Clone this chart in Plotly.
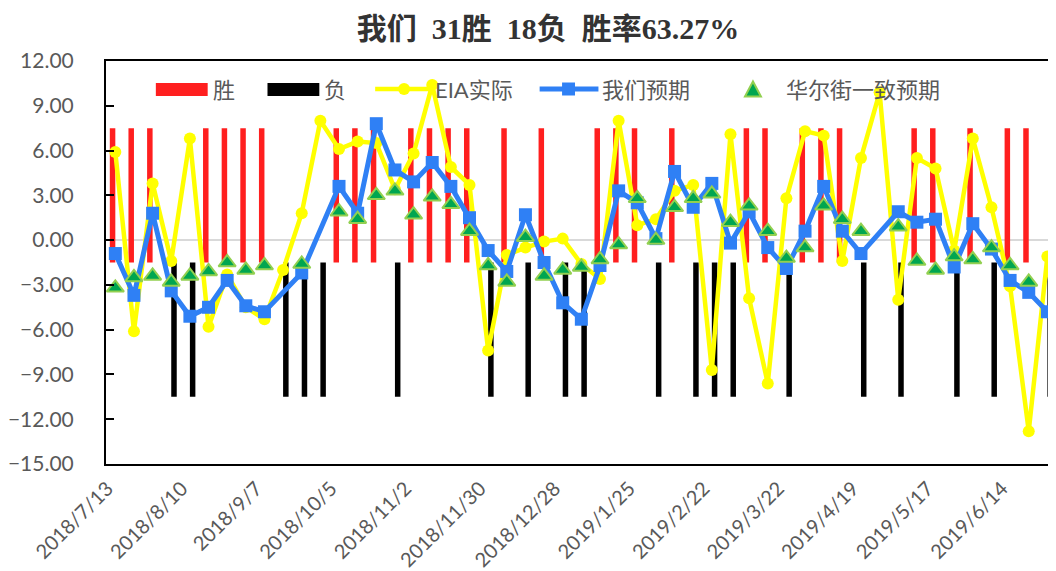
import plotly.graph_objects as go
import pandas as pd

# ---------------- data ----------------
start_date = "2018-07-13"
n_weeks = 52
dates = pd.date_range(start_date, periods=n_weeks, freq="7D")
categories = [f"{d.year}/{d.month}/{d.day}" for d in dates]

tick_labels = ["2018/7/13", "2018/8/10", "2018/9/7", "2018/10/5", "2018/11/2",
               "2018/11/30", "2018/12/28", "2019/1/25", "2019/2/22", "2019/3/22",
               "2019/4/19", "2019/5/17", "2019/6/14"]

eia_actual = [5.9, -6.1, 3.8, -1.4, 6.8, -5.8, -2.3, -4.5, -5.3, -2.0,
              1.8, 8.0, 6.1, 6.6, 6.5, 3.4, 5.8, 10.4, 4.9, 3.7,
              -7.4, -1.0, -0.5, -0.1, 0.1, -1.6, -2.6, 8.0, 1.0, 1.4,
              3.3, 3.7, -8.7, 7.1, -3.9, -9.6, 2.8, 7.3, 7.0, -1.4,
              5.5, 9.9, -4.0, 5.5, 4.8, -0.7, 6.8, 2.2, -3.1, -12.8,
              -1.1, -11.5]

our_forecast = [-0.9, -3.7, 1.8, -3.4, -5.1, -4.5, -2.7, -4.4, -4.8, None,
                -2.2, None, 3.6, 1.8, 7.8, 4.7, 3.9, 5.2, 3.6, 1.5,
                -0.7, -2.1, 1.7, -1.5, -4.2, -5.3, -1.7, 3.3, 2.5, 0.1,
                4.6, 2.2, 3.8, -0.2, 1.9, -0.5, -1.9, 0.6, 3.6, 0.6,
                -0.9, None, 1.9, 1.2, 1.4, -1.8, 1.1, -0.6, -2.7, -3.5,
                -4.8, -5.0]

street_consensus = [-3.2, -2.5, -2.4, -2.8, -2.4, -2.1, -1.5, -2.0, -1.7, None,
                    -1.6, None, 1.9, 1.4, 3.0, 3.3, 1.7, 2.9, 2.4, 0.6,
                    -1.7, -2.8, 0.2, -2.4, -2.0, -1.8, -1.3, -0.3, 2.8, 0.0,
                    2.2, 2.8, 3.1, 1.2, 2.3, 0.6, -1.2, -0.5, 2.3, 1.4,
                    0.6, None, 0.9, -1.4, -2.0, -1.1, -1.3, -0.5, -1.7, -2.8,
                    None, None]

# W = 胜, L = 负, None = no call
results = ["W", "W", "W", "L", "L", "W", "W", "W", "W", "L",
           "L", "L", "W", "W", "W", "L", "W", "W", "W", "W",
           "L", "W", "L", "W", "L", "L", "W", "W", "W", "L",
           "W", "L", "L", "L", "W", "W", "L", "W", "W", "W",
           "L", None, "L", "W", "W", "L", "W", "L", "W", "W",
           "L", None]

# indicator bar extents (in axis units)
WIN_BASE, WIN_TOP = -1.5, 7.5
LOSS_BASE, LOSS_TOP = -10.5, -1.5

win_h = [WIN_TOP - WIN_BASE if r == "W" else None for r in results]
loss_h = [LOSS_TOP - LOSS_BASE if r == "L" else None for r in results]

# ---------------- styling ----------------
OFF = 8                      # page body margin of the html page
PAGE_W, PAGE_H = 1056, 571
W, H = PAGE_W - OFF, PAGE_H - OFF
ML, MR, MT, MB = 103 - OFF, 0, 61 - OFF, 107
PW, PH = W - ML - MR, H - MT - MB
CAT_PX = 18.7

RED = "#FF1F1F"
BLACK = "#000000"
YELLOW = "#FFFF00"
BLUE = "#2F80F5"
GREEN_FILL = "#00A650"
GREEN_LINE = "#92D050"
GRAY_TXT = "#595959"
LATIN = "Lato, 'Noto Sans CJK SC', sans-serif"


def fx(x):
    """page pixel x -> paper fraction"""
    return (x - OFF - ML) / PW


def fy(y):
    """page pixel y -> paper fraction"""
    return (MT + PH - (y - OFF)) / PH


fig = go.Figure()

fig.add_trace(go.Bar(x=categories, y=win_h, base=WIN_BASE, marker_color=RED,
                     marker_line_width=0, name="胜", showlegend=False))
fig.add_trace(go.Bar(x=categories, y=loss_h, base=LOSS_BASE, marker_color=BLACK,
                     marker_line_width=0, name="负", showlegend=False))

fig.add_trace(go.Scatter(x=categories, y=eia_actual, mode="lines+markers",
                         line=dict(color=YELLOW, width=4.5),
                         marker=dict(color=YELLOW, size=12, symbol="circle"),
                         name="EIA实际", showlegend=False, connectgaps=True))
fig.add_trace(go.Scatter(x=categories, y=our_forecast, mode="lines+markers",
                         line=dict(color=BLUE, width=5),
                         marker=dict(color=BLUE, size=13, symbol="square"),
                         name="我们预期", showlegend=False, connectgaps=True))
fig.add_trace(go.Scatter(x=categories, y=street_consensus, mode="markers",
                         marker=dict(color=GREEN_FILL, size=15, symbol="triangle-up",
                                     line=dict(color=GREEN_LINE, width=2)),
                         name="华尔街一致预期", showlegend=False))

# ---------------- custom legend ----------------
LEG_Y = 89
shapes = []
annotations = []


def leg_text(x, txt):
    annotations.append(dict(x=fx(x), y=fy(LEG_Y), xref="paper", yref="paper",
                            text=txt, showarrow=False, xanchor="left", yanchor="middle",
                            font=dict(size=22, color=GRAY_TXT, family=LATIN)))


shapes.append(dict(type="rect", xref="paper", yref="paper", x0=fx(153), x1=fx(205),
                   y0=fy(LEG_Y + 7), y1=fy(LEG_Y - 6), fillcolor=RED, line_width=0))
leg_text(208, "胜")
shapes.append(dict(type="rect", xref="paper", yref="paper", x0=fx(265), x1=fx(317),
                   y0=fy(LEG_Y + 7), y1=fy(LEG_Y - 6), fillcolor=BLACK, line_width=0))
leg_text(320, "负")
shapes.append(dict(type="line", xref="paper", yref="paper", x0=fx(373), x1=fx(430),
                   y0=fy(LEG_Y), y1=fy(LEG_Y), line=dict(color=YELLOW, width=4.5)))
shapes.append(dict(type="circle", xref="paper", yref="paper", x0=fx(396), x1=fx(408),
                   y0=fy(LEG_Y + 6), y1=fy(LEG_Y - 6), fillcolor=YELLOW, line_width=0))
leg_text(431, "EIA实际")
shapes.append(dict(type="line", xref="paper", yref="paper", x0=fx(538), x1=fx(597),
                   y0=fy(LEG_Y), y1=fy(LEG_Y), line=dict(color=BLUE, width=5)))
shapes.append(dict(type="rect", xref="paper", yref="paper", x0=fx(560.5), x1=fx(573.5),
                   y0=fy(LEG_Y + 6.5), y1=fy(LEG_Y - 6.5), fillcolor=BLUE, line_width=0))
leg_text(599, "我们预期")
tri = (f"M {fx(752)} {fy(LEG_Y - 7.5)} L {fx(744)} {fy(LEG_Y + 7.5)} "
       f"L {fx(760)} {fy(LEG_Y + 7.5)} Z")
shapes.append(dict(type="path", xref="paper", yref="paper", path=tri,
                   fillcolor=GREEN_FILL, line=dict(color=GREEN_LINE, width=2)))
leg_text(783, "华尔街一致预期")

# ---------------- layout ----------------
fig.update_layout(
    width=W, height=H,
    margin=dict(l=ML, r=MR, t=MT, b=MB, pad=0),
    paper_bgcolor="white", plot_bgcolor="white",
    barmode="group", bargap=0.41, bargroupgap=0,
    title=dict(text="我们\u00a0\u00a031胜\u00a0\u00a018负\u00a0\u00a0胜率63.27%",
               x=(548 - OFF) / W, xref="container", xanchor="center",
               y=1 - (28 - OFF) / H, yref="container", yanchor="middle",
               font=dict(size=30, color="#333333",
                         family="'Liberation Serif', 'Noto Sans CJK SC', serif",
                         weight="bold")),
    shapes=shapes, annotations=annotations,
    showlegend=False,
)

fig.update_xaxes(
    type="category",
    range=[-0.5, PW / CAT_PX - 0.5],
    tickmode="array", tickvals=tick_labels, ticktext=tick_labels,
    tickangle=-45, ticks="",
    ticklabelshift=-8, ticklabelstandoff=3,
    tickfont=dict(size=20, color=GRAY_TXT, family=LATIN),
    showline=True, linecolor=BLACK, linewidth=2, mirror=True,
    showgrid=False, zeroline=False,
)

fig.update_yaxes(
    range=[-15, 12], dtick=3, tick0=0, tickformat=".2f",
    ticks="inside", ticklen=8, tickwidth=2, tickcolor=BLACK,
    ticklabelstandoff=26,
    tickfont=dict(size=21, color=GRAY_TXT, family=LATIN),
    showline=True, linecolor=BLACK, linewidth=2, mirror=False,
    showgrid=False, zeroline=True, zerolinecolor="#D9D9D9", zerolinewidth=2,
)

fig.write_html("out.html")
